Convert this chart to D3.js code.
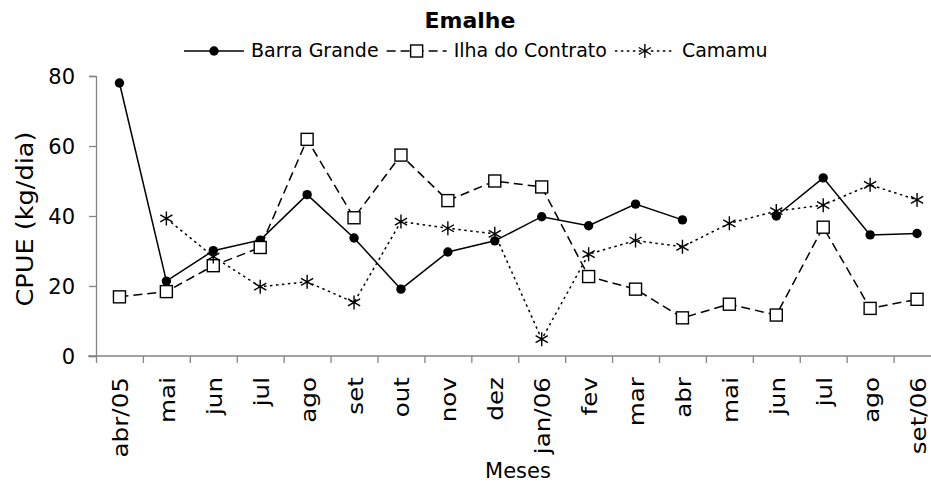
<!DOCTYPE html>
<html><head><meta charset="utf-8">
<script src="https://cdn.jsdelivr.net/npm/d3@7"></script>
<style>
html,body{margin:0;padding:0;background:#fff;}
svg{display:block;font-family:"DejaVu Sans",Verdana,sans-serif;}
</style></head>
<body><svg id="c" width="931" height="483"></svg>
<script>
const months = ["abr/05","mai","jun","jul","ago","set","out","nov","dez","jan/06","fev","mar","abr","mai","jun","jul","ago","set/06"];
const barraGrande = [78,21.4,30.1,33.1,46.1,33.7,19.1,29.7,32.9,39.8,37.2,43.4,38.9,null,40.0,50.9,34.6,35.0];
const ilhaContrato = [16.9,18.4,25.8,31.0,61.9,39.5,57.4,44.4,50.0,48.3,22.7,19.1,10.9,14.8,11.7,36.8,13.6,16.2];
const camamu = [null,39.3,28.4,19.8,21.2,15.3,38.4,36.5,34.9,4.8,29.1,33.0,31.2,37.9,41.4,43.1,48.9,44.6];
const yTicks = [0,20,40,60,80];
const seriesNames = ["Barra Grande","Ilha do Contrato","Camamu"];

const svg = d3.select("#c");
const pLeft = 96, pRight = 940.5, pTop = 76, pBottom = 356;
const idx = d3.range(months.length);
const x = d3.scaleBand().domain(idx).range([pLeft,pRight]).paddingInner(0).paddingOuter(0);
const xb = d3.scaleLinear().domain([0,months.length]).range([pLeft,pRight]);
const y = d3.scaleLinear().domain([0,80]).range([pBottom,pTop]);
const cx = i => x(i) + x.bandwidth()/2;
const axisColor = "#858585";

// Y axis
const ya = svg.append("g").attr("transform",`translate(${pLeft},0)`)
  .call(d3.axisLeft(y).tickValues(yTicks).tickSize(7).tickPadding(14));
ya.select(".domain").attr("stroke",axisColor).attr("stroke-width",1.3);
ya.selectAll(".tick line").attr("stroke",axisColor).attr("stroke-width",1.3);
ya.selectAll(".tick text").attr("font-size",21).attr("font-family","DejaVu Sans").attr("fill","#000").attr("dy","0.36em");

// X axis ticks at band boundaries
const xa = svg.append("g").attr("transform",`translate(0,${pBottom})`)
  .call(d3.axisBottom(xb).tickValues(d3.range(months.length+1)).tickSize(7).tickFormat(""));
xa.select(".domain").attr("stroke",axisColor).attr("stroke-width",1.3).attr("d",`M${pLeft-8},0H${pRight}`);
xa.selectAll(".tick line").attr("stroke",axisColor).attr("stroke-width",1.3);

// X labels
const xl = svg.append("g").attr("transform",`translate(0,${pBottom})`)
  .call(d3.axisBottom(x).tickSize(0).tickFormat(i => months[i]));
xl.select(".domain").remove();
xl.selectAll(".tick text")
  .attr("transform","rotate(-90) scale(1.12,1)")
  .attr("text-anchor","end")
  .attr("x",-21/1.12).attr("y",8.5).attr("dy","0")
  .attr("font-size",22).attr("font-family","DejaVu Sans").attr("fill","#000");

// Axis titles
svg.append("text").attr("x",518).attr("y",478).attr("text-anchor","middle")
  .attr("font-size",21).text("Meses");
svg.append("text").attr("transform","translate(33,219) rotate(-90)").attr("text-anchor","middle")
  .attr("font-size",23).attr("textLength",175).attr("lengthAdjust","spacingAndGlyphs").text("CPUE (kg/dia)");

// Title
svg.append("text").attr("x",470).attr("y",28).attr("text-anchor","middle")
  .attr("font-size",22).attr("font-weight","bold").text("Emalhe");

// Lines
const line = d3.line().defined(d => d.v != null).x(d => cx(d.i)).y(d => y(d.v));
const toPts = arr => arr.map((v,i) => ({i,v}));
const styles = [
  {data: barraGrande, dash: null},
  {data: ilhaContrato, dash: "9,5"},
  {data: camamu, dash: "2.5,3.5"}
];
styles.forEach(s => {
  svg.append("path").datum(toPts(s.data)).attr("d",line)
    .attr("fill","none").attr("stroke","#000").attr("stroke-width",1.5)
    .attr("stroke-dasharray",s.dash);
});

// Markers
function circleM(g,px,py){ g.append("circle").attr("cx",px).attr("cy",py).attr("r",4.7).attr("fill","#000"); }
function squareM(g,px,py){ g.append("rect").attr("x",px-6).attr("y",py-6).attr("width",12).attr("height",12)
  .attr("fill","#fff").attr("stroke","#000").attr("stroke-width",1.4); }
function starM(g,px,py){
  const r=7;
  g.append("path").attr("d",`M${px-r*0.87},${py-r*0.5}L${px+r*0.87},${py+r*0.5}M${px-r*0.87},${py+r*0.5}L${px+r*0.87},${py-r*0.5}M${px},${py-r}L${px},${py+r}`)
    .attr("stroke","#000").attr("stroke-width",1.4).attr("fill","none");
}
const markerFns = [circleM, squareM, starM];
const mg = svg.append("g");
styles.forEach((s,k) => {
  s.data.forEach((v,i) => { if (v != null) markerFns[k](mg, cx(i), y(v)); });
});

// Legend
const lg = svg.append("g");
const legLens = [60, 60, 60];
let lx = 184; const ly = 51;
seriesNames.forEach((name,k) => {
  const len = legLens[k];
  lg.append("line").attr("x1",lx).attr("x2",lx+len).attr("y1",ly).attr("y2",ly)
    .attr("stroke","#000").attr("stroke-width",1.5).attr("stroke-dasharray",styles[k].dash);
  markerFns[k](lg, lx+len/2, ly);
  const t = lg.append("text").attr("x",lx+len+7).attr("y",57).attr("font-size",19).text(name);
  lx = lx + len + 7 + t.node().getComputedTextLength() + 8;
});
</script></body></html>
